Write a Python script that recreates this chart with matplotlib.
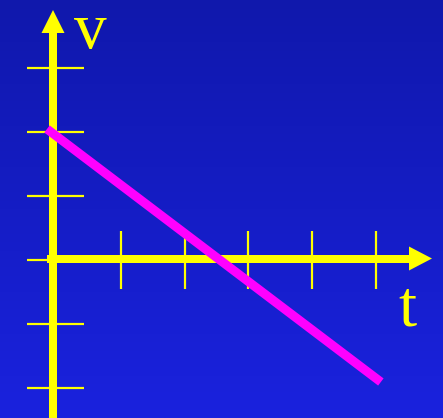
import matplotlib
matplotlib.use("Agg")
import matplotlib.pyplot as plt
import numpy as np
from matplotlib.patches import Polygon

# Data
line_t = [-0.157, 5.08]
line_v = [2.047, -1.906]
x_ticks = [1, 2, 3, 4, 5]
y_ticks = [-2, -1, 1, 2, 3]
x_label = "t"
y_label = "v"

W, H = 443, 418
fig = plt.figure(figsize=(W / 100, H / 100), dpi=100)

# background gradient
bg = fig.add_axes([0, 0, 1, 1])
bg.axis("off")
grad = np.linspace(0, 1, 256).reshape(-1, 1)
top = np.array([16, 24, 172]) / 255
bot = np.array([26, 34, 222]) / 255
img = top[None, None, :] * (1 - grad[:, :, None]) + bot[None, None, :] * grad[:, :, None]
bg.imshow(img, aspect="auto", extent=[0, 1, 0, 1], origin="upper")

ax = fig.add_axes([0, 0, 1, 1], facecolor="none")
ox, ux = 57, 63.75
oy, uy = 260, 64
ax.set_xlim(-ox / ux, (W - ox) / ux)
ax.set_ylim((oy - H) / uy, oy / uy)
ax.axis("off")

yellow = "#ffff00"
px = 72 / 100

# y-axis
ya_t = (53 - ox) / ux
ax.plot([ya_t, ya_t], [(oy - H) / uy, (oy - 33) / uy], color=yellow, lw=8 * px, solid_capstyle="butt", zorder=2)
ax.add_patch(Polygon([[ya_t - 11.5 / ux, (oy - 33) / uy], [ya_t + 11.5 / ux, (oy - 33) / uy], [ya_t, (oy - 10) / uy]],
                     closed=True, color=yellow, lw=0, zorder=2))
# x-axis
xa_v = (oy - 258.5) / uy
ax.plot([(47 - ox) / ux, (409 - ox) / ux], [xa_v, xa_v], color=yellow, lw=8 * px, solid_capstyle="butt", zorder=2)
ax.add_patch(Polygon([[(409 - ox) / ux, xa_v + 12 / uy], [(409 - ox) / ux, xa_v - 12 / uy], [(432 - ox) / ux, xa_v]],
                     closed=True, color=yellow, lw=0, zorder=2))

# ticks
for v in y_ticks:
    ax.plot([(27 - ox) / ux, (84 - ox) / ux], [v, v], color=yellow, lw=2.2 * px, solid_capstyle="butt", zorder=2)
ax.plot([(27 - ox) / ux, ya_t], [0, 0], color=yellow, lw=2.2 * px, solid_capstyle="butt", zorder=2)
for t in x_ticks:
    ax.plot([t, t], [0.45, -0.45], color=yellow, lw=2.2 * px, solid_capstyle="butt", zorder=2)

# magenta line
ax.plot(line_t, line_v, color="#ff00ff", lw=9 * px, solid_capstyle="butt", zorder=3)

# labels
ax.text((90 - ox) / ux, (oy - 25) / uy, y_label, color=yellow, fontsize=47, family="Liberation Serif",
        ha="center", va="center_baseline")
ax.text((407 - ox) / ux, (oy - 303) / uy, x_label, color=yellow, fontsize=47, family="Liberation Serif",
        ha="center", va="center_baseline")

fig.savefig("out.png", dpi=100)
